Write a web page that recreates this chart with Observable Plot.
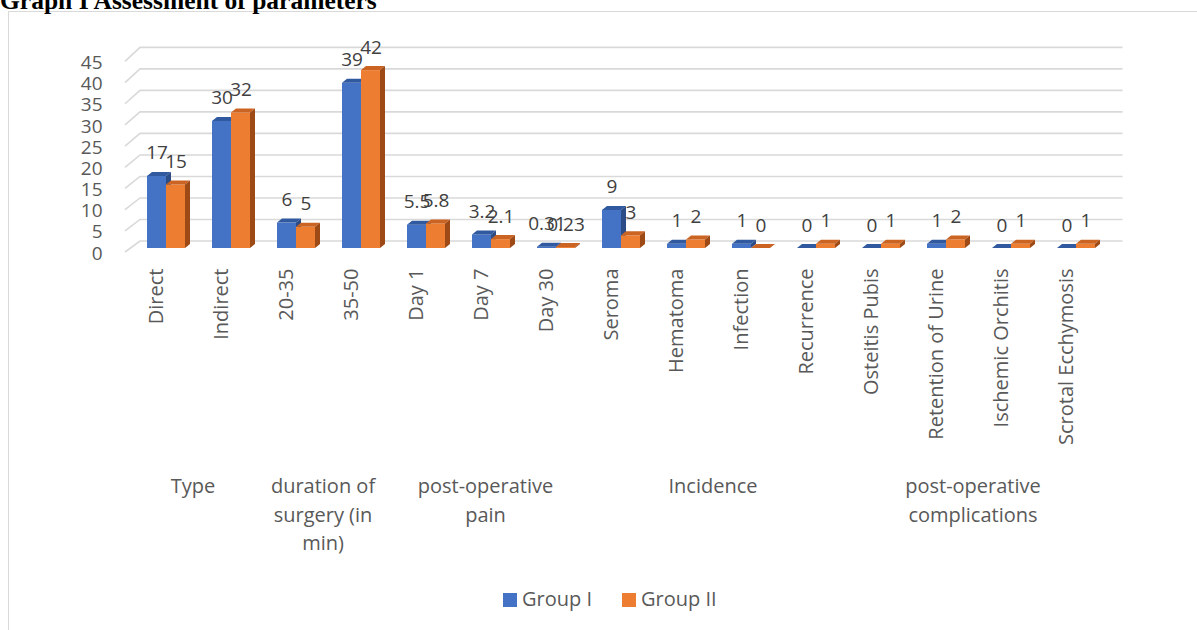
<!DOCTYPE html>
<html>
<head>
<meta charset="utf-8">
<script src="https://cdn.jsdelivr.net/npm/d3@7"></script>
<script src="https://cdn.jsdelivr.net/npm/@observablehq/plot@0.6"></script>
<style>
  html, body { margin: 0; padding: 0; background: #fff; }
  #wrap { position: relative; width: 1197px; height: 630px; overflow: hidden; font-family: "Open Sans", sans-serif; }
  #frame { position: absolute; left: 8px; top: 11px; width: 1400px; height: 800px; border: 1.5px solid #d9d9d9; box-sizing: border-box; }
  #title { position: absolute; left: 0; top: -14px; line-height: 1; font: bold 25.5px "Liberation Serif", "Times New Roman", serif; color: #000; white-space: nowrap; }
  #chart { position: absolute; left: 0; top: 0; }
  .sw { position: absolute; width: 14px; height: 14px; top: 593px; }
  .lt { position: absolute; top: 589px; font-size: 20px; line-height: 1; color: #595959; white-space: nowrap; }
</style>
</head>
<body>
<div id="wrap">
  <div id="frame"></div>
  <div id="title">Graph I Assessment of parameters</div>
  <div id="chart"></div>
  <div class="sw" style="left:503px;background:#4472C4"></div>
  <div class="lt" style="left:522px">Group I</div>
  <div class="sw" style="left:622px;background:#ED7D31"></div>
  <div class="lt" style="left:641px">Group II</div>
</div>
<script>
// ---- data ----
const categories = ["Direct", "Indirect", "20-35", "35-50", "Day 1", "Day 7", "Day 30", "Seroma", "Hematoma", "Infection", "Recurrence", "Osteitis Pubis", "Retention of Urine", "Ischemic Orchitis", "Scrotal Ecchymosis"];
const groupI  = [17, 30, 6, 39, 5.5, 3.2, 0.31, 9, 1, 1, 0, 0, 1, 0, 0];
const groupII = [15, 32, 5, 42, 5.8, 2.1, 0.23, 3, 2, 0, 1, 1, 2, 1, 1];
const yTicks = [0, 5, 10, 15, 20, 25, 30, 35, 40, 45];
const groupNames = ["Type", "duration of\nsurgery (in\nmin)", "post-operative\npain", "Incidence", "post-operative\ncomplications"];
const groupMembers = [
  ["Direct", "Indirect"],
  ["20-35", "35-50"],
  ["Day 1", "Day 7", "Day 30"],
  ["Seroma", "Hematoma", "Infection", "Recurrence"],
  ["Osteitis Pubis", "Retention of Urine", "Ischemic Orchitis", "Scrotal Ecchymosis"]
];

// ---- styles ----
const seriesColors = [
  {front: "#4472C4", top: "#30599F", side: "#2B4C86"},
  {front: "#ED7D31", top: "#CB6423", side: "#9E4A16"}
];
const DX = 5, DY = 4;           // bar depth offset
const FX = 5, FY = 4;           // floor front offset from bar front
const BX = 10, BY = 7;          // floor back offset from bar front

function grid3d(index, scales, values, dims) {
  const {y} = scales;
  const y0 = y(0);
  const xl = dims.marginLeft, xr = dims.width - dims.marginRight;
  const g = d3.create("svg:g").attr("fill", "none").attr("stroke", "#d9d9d9").attr("stroke-width", 1.6);
  for (const v of yTicks) {
    const yf = y(v) + FY;
    const yb = y0 - BY + (y(v) - y0) * 1.016;
    g.append("path").attr("d", `M${xl - FX},${yf}L${xl + BX},${yb}L${xr + BX},${yb}`);
  }
  return g.node();
}

function bars3d(index, scales, values, dims) {
  const {x, y} = scales;
  const bw = x.bandwidth();
  const w = bw / 2;
  const y0 = y(0);
  const g = d3.create("svg:g");
  categories.forEach((c, i) => {
    [groupI[i], groupII[i]].forEach((v, k) => {
      const col = seriesColors[k];
      const x0 = x(c) + k * w, yt = y(v);
      g.append("rect").attr("x", x0).attr("y", yt).attr("width", w).attr("height", Math.max(0, y0 - yt)).attr("fill", col.front);
      g.append("path").attr("d", `M${x0},${yt}L${x0 + w},${yt}L${x0 + w + DX},${yt - DY}L${x0 + DX},${yt - DY}Z`).attr("fill", col.top);
      g.append("path").attr("d", `M${x0 + w},${yt}L${x0 + w + DX},${yt - DY}L${x0 + w + DX},${y0 - DY}L${x0 + w},${y0}Z`).attr("fill", col.side);
    });
  });
  return g.node();
}

function groupLabels(index, scales, values, dims) {
  const {x, y} = scales;
  const bw = x.bandwidth();
  const g = d3.create("svg:g").attr("fill", "#595959").attr("font-size", 20).attr("text-anchor", "middle");
  groupNames.forEach((name, j) => {
    const cx = d3.mean(groupMembers[j], c => x(c) + bw / 2) - 5.5;
    const t = g.append("text").attr("x", cx).attr("y", y(0) + 245);
    name.split("\n").forEach((line, li) => {
      t.append("tspan").attr("x", cx).attr("dy", li === 0 ? 0 : 28.5).text(line);
    });
  });
  return g.node();
}

const chart = Plot.plot({
  width: 1197,
  height: 580,
  marginLeft: 130,
  marginRight: 84.5,
  marginTop: 57.4,
  marginBottom: 332,
  style: {fontFamily: "'Open Sans', sans-serif", background: "transparent", overflow: "visible"},
  x: {type: "band", domain: categories, paddingInner: 0.42, paddingOuter: 0.21, align: 0.5, axis: null},
  y: {domain: [0, 45], axis: null},
  marks: [
    grid3d,
    bars3d,
    Plot.text(yTicks, {y: d => d, text: d => String(d), frameAnchor: "left", textAnchor: "end", dx: -28, dy: 5, fontSize: 19, fill: "#595959"}),
    Plot.text(categories, {x: d => d, y: (d, i) => groupI[i], text: (d, i) => String(groupI[i]), dx: -9.5, dy: -17, lineAnchor: "bottom", fontSize: 19, fill: "#404040"}),
    Plot.text(categories, {x: d => d, y: (d, i) => groupII[i], text: (d, i) => String(groupII[i]), dx: 9.5, dy: -17, lineAnchor: "bottom", fontSize: 19, fill: "#404040"}),
    Plot.text(categories, {x: d => d, frameAnchor: "bottom", rotate: -90, textAnchor: "end", dx: -4, dy: 20, fontSize: 20, fill: "#595959"}),
    groupLabels
  ]
});
document.getElementById("chart").appendChild(chart);
</script>
</body>
</html>
